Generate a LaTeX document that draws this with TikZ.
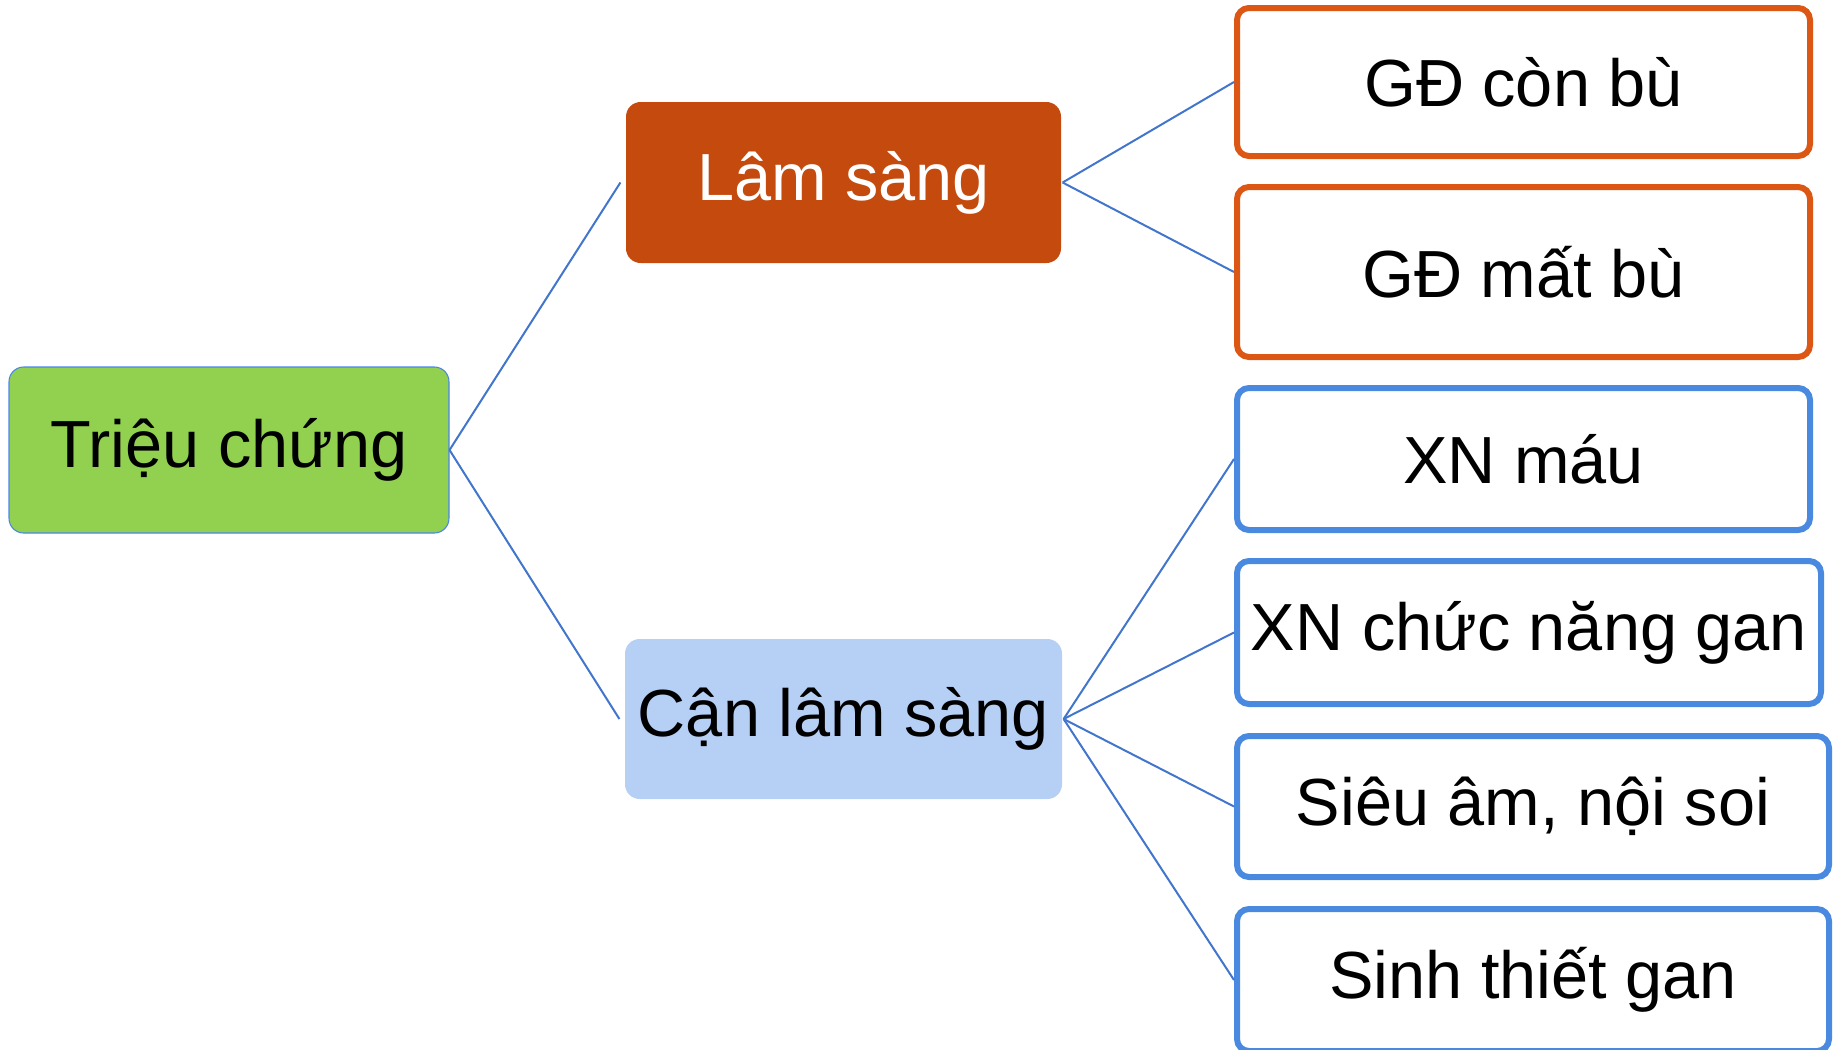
\documentclass[tikz,border=0pt]{standalone}
\usepackage{fontspec}
\setmainfont{Liberation Sans}
\definecolor{rootfill}{HTML}{92D050}
\definecolor{rootline}{HTML}{4A86E8}
\definecolor{lamfill}{HTML}{C44A0E}
\definecolor{canfill}{HTML}{B6CFF5}
\definecolor{orline}{HTML}{DC5614}
\definecolor{blline}{HTML}{4A89E0}
\definecolor{conn}{HTML}{4275CC}
\tikzset{
  txt/.style={font=\fontsize{50}{60}\selectfont, inner sep=0pt, align=center},
  rootbox/.style={txt, rectangle, rounded corners=11pt, fill=rootfill, draw=rootline, line width=0.8pt},
  lambox/.style={txt, rectangle, rounded corners=11pt, fill=lamfill, text=white},
  canbox/.style={txt, rectangle, rounded corners=11pt, fill=canfill, text=black},
  orbox/.style={txt, rectangle, rounded corners=9pt, fill=white, draw=orline, line width=4.5pt},
  blbox/.style={txt, rectangle, rounded corners=9pt, fill=white, draw=blline, line width=4.5pt},
  link/.style={draw=conn, line width=1.5pt}
}
\begin{document}
\begin{tikzpicture}[x=0.75pt,y=-0.75pt]
\useasboundingbox (0,0) rectangle (1843,1050);
\node[rootbox, minimum width=330pt, minimum height=124.5pt] (root) at (229,450) {Triệu chứng};
\node[lambox, minimum width=326.25pt, minimum height=120.75pt] (lam) at (843.5,182.5) {Lâm sàng};
\node[canbox, minimum width=327.75pt, minimum height=120pt] (can) at (843.5,719) {Cận lâm sàng};
\node[orbox, minimum width=429.75pt, minimum height=111pt] (con) at (1523.5,82) {GĐ còn bù};
\node[orbox, minimum width=429.75pt, minimum height=127.5pt] (mat) at (1523.5,272) {GĐ mất bù};
\node[blbox, minimum width=429.75pt, minimum height=106.5pt] (mau) at (1523.5,459) {XN máu};
\node[blbox, minimum width=438pt, minimum height=107.25pt] (cng) at (1529,632.5) {XN chức năng gan};
\node[blbox, minimum width=444pt, minimum height=105.75pt] (sa) at (1533,806.5) {Siêu âm, nội soi};
\node[blbox, minimum width=444pt, minimum height=106.5pt] (st) at (1533,980) {Sinh thiết gan};
\draw[link] (root.east) -- ([xshift=-4pt]lam.west);
\draw[link] (root.east) -- ([xshift=-4pt]can.west);
\draw[link] ([xshift=1pt]lam.east) -- (con.west);
\draw[link] ([xshift=1pt]lam.east) -- (mat.west);
\draw[link] ([xshift=1pt]can.east) -- (mau.west);
\draw[link] ([xshift=1pt]can.east) -- (cng.west);
\draw[link] ([xshift=1pt]can.east) -- (sa.west);
\draw[link] ([xshift=1pt]can.east) -- (st.west);
\end{tikzpicture}
\end{document}
